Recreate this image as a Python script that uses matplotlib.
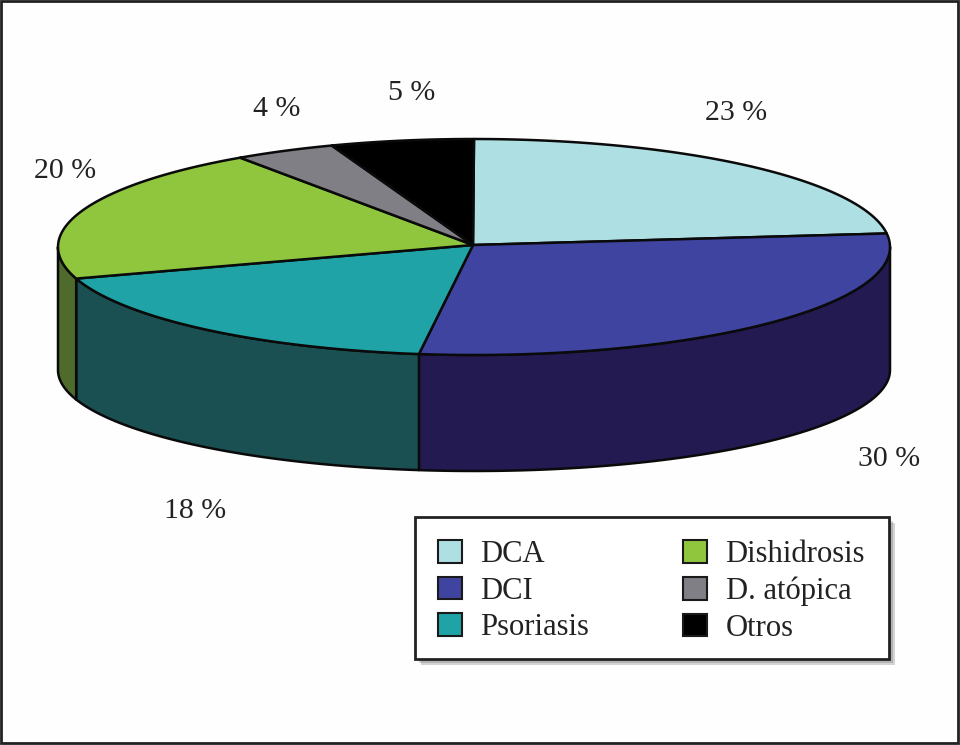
import numpy as np
import matplotlib
matplotlib.use("Agg")
from matplotlib import pyplot as plt
from matplotlib.patches import Polygon, Patch, Rectangle

categories = ["DCA", "DCI", "Psoriasis", "Dishidrosis", "D. atópica", "Otros"]
values = [23, 30, 18, 20, 4, 5]

top_colors = ["#aee0e3", "#3e44a0", "#1fa3a6", "#90c63e", "#7f7f85", "#000000"]
side_colors = ["#241a52", "#241a52", "#1a5052", "#4f6b2c", "#4f6b2c", "#000000"]

plt.rcParams["font.family"] = ["Liberation Serif", "DejaVu Serif"]
FS = 21.5
INK = "#0a0a0a"

# pie geometry in image pixels
hub = (473, 245)
cx, rx = 474, 416
top_cy, top_ry = 247, 108
bot_cy, bot_ry = 370, 101

# the original 3D view squeezes some slices, shift in degrees by clockwise angle
warp_at = [0, 83, 191, 256, 328, 342, 360]
warp_by = [0, 0, -3.2, -2.6, -1.8, -2, 0]


def warp(t):
    return t + np.interp(t, warp_at, warp_by)


def rim(t, cy, ry):
    r = np.radians(t)
    return np.column_stack([cx + rx * np.sin(r), cy - ry * np.cos(r)])


fig = plt.figure(figsize=(9.6, 7.45), dpi=100, facecolor="#fefefe")
ax = fig.add_axes([0, 0, 1, 1])
ax.set_xlim(0, 960)
ax.set_ylim(745, 0)
ax.axis("off")

# picture frame
ax.add_patch(Rectangle((1, 1), 957, 742, fill=False, edgecolor="#222222", linewidth=2))

edges = np.cumsum([0] + values) / sum(values) * 360

# side wall, only the part between the right and left extremes shows
for i in range(len(values)):
    a = max(warp(edges[i]), 90)
    b = min(warp(edges[i + 1]), 270)
    if b <= a:
        continue
    t = np.linspace(a, b, 80)
    pts = np.vstack([rim(t, top_cy, top_ry), rim(t[::-1], bot_cy, bot_ry)])
    ax.add_patch(Polygon(pts, closed=True, facecolor=side_colors[i], edgecolor=INK,
                         linewidth=1.8, joinstyle="round"))

# top face
for i in range(len(values)):
    t = np.linspace(warp(edges[i]), warp(edges[i + 1]), 80)
    pts = np.vstack([[hub], rim(t, top_cy, top_ry)])
    ax.add_patch(Polygon(pts, closed=True, facecolor=top_colors[i], edgecolor=INK,
                         linewidth=1.8, joinstyle="round"))

# percent labels
label_pos = [(736, 113), (889, 459), (195, 511), (65, 171), (277, 109), (412, 93)]
for v, (x, y) in zip(values, label_pos):
    ax.text(x, y, f"{v} %", fontsize=FS, ha="center", va="center", color="#222222")

# legend box by hand, soft shadow from a few stacked rectangles
for off in [6, 4, 2]:
    ax.add_patch(Rectangle((415 + off, 517 + off), 474, 142, facecolor="#555555",
                           edgecolor="none", alpha=0.25))
ax.add_patch(Rectangle((415, 517), 474, 142, facecolor="white", edgecolor="#222222",
                       linewidth=2))

handles = [Patch(facecolor=c, edgecolor="#1a1a1a", linewidth=1.5, label=n)
           for c, n in zip(top_colors, categories)]
leg = ax.legend(handles=handles, ncols=2, loc="upper left", bbox_to_anchor=(438, 540),
                bbox_transform=ax.transData, borderaxespad=0, fontsize=22.1,
                handlelength=0.78, handleheight=0.75, handletextpad=0.59,
                columnspacing=3.08, borderpad=0, labelspacing=0.25,
                frameon=False, labelcolor="#222222")

fig.savefig("out.png", dpi=100)
